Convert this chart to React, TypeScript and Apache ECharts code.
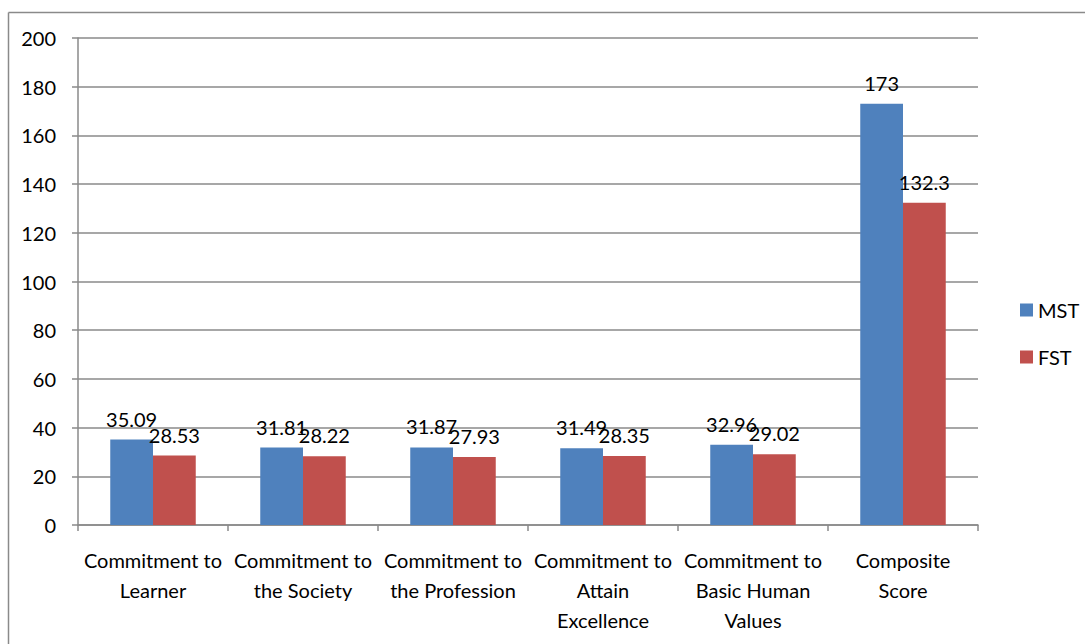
import React, { useEffect, useRef } from "react";
import * as echarts from "echarts";

const categories = [
  "Commitment to\nLearner",
  "Commitment to\nthe Society",
  "Commitment to\nthe Profession",
  "Commitment to\nAttain\nExcellence",
  "Commitment to\nBasic Human\nValues",
  "Composite\nScore",
];
const mstValues = [35.09, 31.81, 31.87, 31.49, 32.96, 173];
const fstValues = [28.53, 28.22, 27.93, 28.35, 29.02, 132.3];
const seriesNames = ["MST", "FST"];

const FONT = "Lato";
const FS = 20;

export default function App() {
  const ref = useRef<HTMLDivElement>(null);
  useEffect(() => {
    const chart = echarts.init(ref.current!, null, { renderer: "svg" });
    const label = {
      show: true,
      position: "top",
      distance: 11,
      color: "#000",
      fontFamily: FONT,
      fontSize: FS,
    };
    chart.setOption({
      animation: false,
      backgroundColor: "#fff",
      textStyle: { fontFamily: FONT },
      grid: { left: 78, right: 107, top: 38, bottom: 119, containLabel: false },
      legend: {
        orient: "vertical",
        left: 1015,
        top: 295,
        itemWidth: 13,
        itemHeight: 13,
        itemGap: 27,
        icon: "rect",
        textStyle: { fontFamily: FONT, fontSize: FS, color: "#000" },
        data: seriesNames,
      },
      graphic: [
        { type: "line", shape: { x1: 8.5, y1: 12.5, x2: 1085, y2: 12.5 }, style: { stroke: "#8a8a8a", lineWidth: 1.5 } },
        { type: "line", shape: { x1: 8.5, y1: 12.5, x2: 8.5, y2: 644 }, style: { stroke: "#8a8a8a", lineWidth: 1.5 } },
      ],
      xAxis: {
        type: "category",
        data: categories,
        axisLine: { lineStyle: { color: "#8a8a8a", width: 1.5 } },
        axisTick: { show: true, length: 6, inside: false, lineStyle: { color: "#8a8a8a", width: 1.5 } },
        axisLabel: { color: "#000", fontFamily: FONT, fontSize: FS, lineHeight: 30, margin: 20, interval: 0 },
      },
      yAxis: {
        type: "value",
        min: 0,
        max: 200,
        interval: 20,
        axisLine: { show: true, lineStyle: { color: "#8a8a8a", width: 1.5 } },
        axisTick: { show: true, length: 6, lineStyle: { color: "#8a8a8a", width: 1.5 } },
        axisLabel: { color: "#000", fontFamily: FONT, fontSize: FS, margin: 22 },
        splitLine: { show: true, lineStyle: { color: "#8a8a8a", width: 1.5 } },
      },
      series: [
        {
          name: seriesNames[0],
          type: "bar",
          data: mstValues,
          barGap: "0%",
          barCategoryGap: "43%",
          itemStyle: { color: "#4F81BD" },
          label,
        },
        {
          name: seriesNames[1],
          type: "bar",
          data: fstValues,
          barGap: "0%",
          barCategoryGap: "43%",
          itemStyle: { color: "#C0504D" },
          label,
        },
      ],
    });
    return () => chart.dispose();
  }, []);
  return <div ref={ref} style={{ width: 1085, height: 644, position: "absolute", left: 0, top: 0 }} />;
}
